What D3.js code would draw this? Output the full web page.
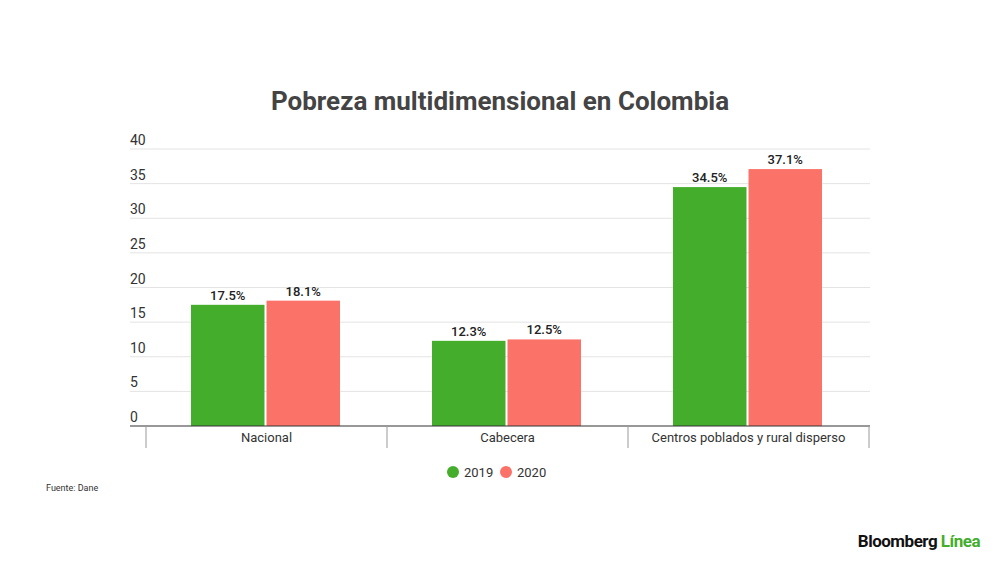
<!DOCTYPE html>
<html>
<head>
    <meta charset="utf-8">
    <title>Pobreza multidimensional en Colombia</title>
    <script src="https://d3js.org/d3.v7.min.js"></script>
</head>
<style>
    body {
        margin: 0;
        background: #fff;
    }

    svg {
        display: block;
    }

    text {
        font-family: Roboto, "Noto Sans", sans-serif;
    }
</style>
<body>
    <svg width="1000" height="562"></svg>

    <script>
        const categories = ['Nacional', 'Cabecera', 'Centros poblados y rural disperso'];
        const series = ['2019', '2020'];
        const values2019 = [17.5, 12.3, 34.5];
        const values2020 = [18.1, 12.5, 37.1];
        const yTicks = [0, 5, 10, 15, 20, 25, 30, 35, 40];
        const colors = ['#44ad2c', '#fa7268'];

        const data = categories.map((c, i) => ({
            category: c,
            values: [
                { key: series[0], value: values2019[i] },
                { key: series[1], value: values2020[i] }
            ]
        }));

        const svg = d3.select("svg");

        const gridLeft = 130, gridRight = 870;

        const xScale = d3.scaleBand()
            .domain(categories)
            .range([146, 869])
            .padding(0);

        const xInner = d3.scaleBand()
            .domain(series)
            .range([45, 194])
            .paddingInner(0.027);

        const yScale = d3.scaleLinear()
            .domain([0, 40])
            .range([426, 149]);

        const color = d3.scaleOrdinal().domain(series).range(colors);

        // title
        svg.append("text")
            .attr("x", 500)
            .attr("y", 110)
            .attr("text-anchor", "middle")
            .style("font-size", "26px")
            .style("font-weight", "bold")
            .style("fill", "#444")
            .text("Pobreza multidimensional en Colombia");

        // gridlines + tick labels
        const grid = svg.append("g");
        grid.selectAll("line")
            .data(yTicks.filter(d => d > 0))
            .enter()
            .append("line")
            .attr("x1", gridLeft)
            .attr("x2", gridRight)
            .attr("y1", d => yScale(d))
            .attr("y2", d => yScale(d))
            .attr("stroke", "#e3e3e3")
            .attr("stroke-width", 1);

        grid.selectAll("text")
            .data(yTicks)
            .enter()
            .append("text")
            .attr("x", gridLeft)
            .attr("y", d => yScale(d) - 4)
            .style("font-size", "14px")
            .style("fill", "#333")
            .text(d => d);

        // bars
        const groups = svg.selectAll(".group")
            .data(data)
            .enter()
            .append("g")
            .attr("class", "group")
            .attr("transform", d => `translate(${xScale(d.category)},0)`);

        groups.selectAll("rect")
            .data(d => d.values)
            .enter()
            .append("rect")
            .attr("x", d => xInner(d.key))
            .attr("y", d => yScale(d.value))
            .attr("width", xInner.bandwidth())
            .attr("height", d => yScale(0) - yScale(d.value))
            .attr("fill", d => color(d.key));

        groups.selectAll(".val")
            .data(d => d.values)
            .enter()
            .append("text")
            .attr("class", "val")
            .attr("x", d => xInner(d.key) + xInner.bandwidth() / 2)
            .attr("y", d => yScale(d.value) - 5)
            .attr("text-anchor", "middle")
            .style("font-size", "13px")
            .style("font-weight", "500")
            .style("fill", "#222")
            .text(d => d.value.toFixed(1) + "%");

        // x axis
        const xAxis = svg.append("g");
        xAxis.append("line")
            .attr("x1", gridLeft)
            .attr("x2", gridRight)
            .attr("y1", yScale(0))
            .attr("y2", yScale(0))
            .attr("stroke", "#333")
            .attr("stroke-width", 1.2);

        const sepPositions = categories.map(c => xScale(c)).concat([xScale.range()[1]]);
        xAxis.selectAll(".sep")
            .data(sepPositions)
            .enter()
            .append("line")
            .attr("class", "sep")
            .attr("x1", d => d)
            .attr("x2", d => d)
            .attr("y1", yScale(0))
            .attr("y2", yScale(0) + 22)
            .attr("stroke", "#999")
            .attr("stroke-width", 1);

        xAxis.selectAll(".cat")
            .data(categories)
            .enter()
            .append("text")
            .attr("class", "cat")
            .attr("x", d => xScale(d) + xScale.bandwidth() / 2)
            .attr("y", yScale(0) + 16)
            .attr("text-anchor", "middle")
            .style("font-size", "13px")
            .style("fill", "#333")
            .text(d => d);

        // legend
        const legend = svg.append("g");
        const legendX = [453, 506];
        series.forEach((s, i) => {
            legend.append("circle")
                .attr("cx", legendX[i])
                .attr("cy", 472)
                .attr("r", 6)
                .attr("fill", color(s));
            legend.append("text")
                .attr("x", legendX[i] + 11)
                .attr("y", 477)
                .style("font-size", "13px")
                .style("fill", "#333")
                .text(s);
        });

        // source
        svg.append("text")
            .attr("x", 46)
            .attr("y", 491)
            .style("font-size", "9px")
            .style("fill", "#333")
            .text("Fuente: Dane");

        // logo
        const logo = svg.append("text")
            .attr("x", 980)
            .attr("y", 547)
            .attr("text-anchor", "end")
            .style("font-size", "17px")
            .style("font-weight", "bold")
            .style("letter-spacing", "-0.5px");
        logo.append("tspan").style("fill", "#111").text("Bloomberg ");
        logo.append("tspan").style("fill", "#44ad2c").text("Línea");
    </script>
</body>
</html>
